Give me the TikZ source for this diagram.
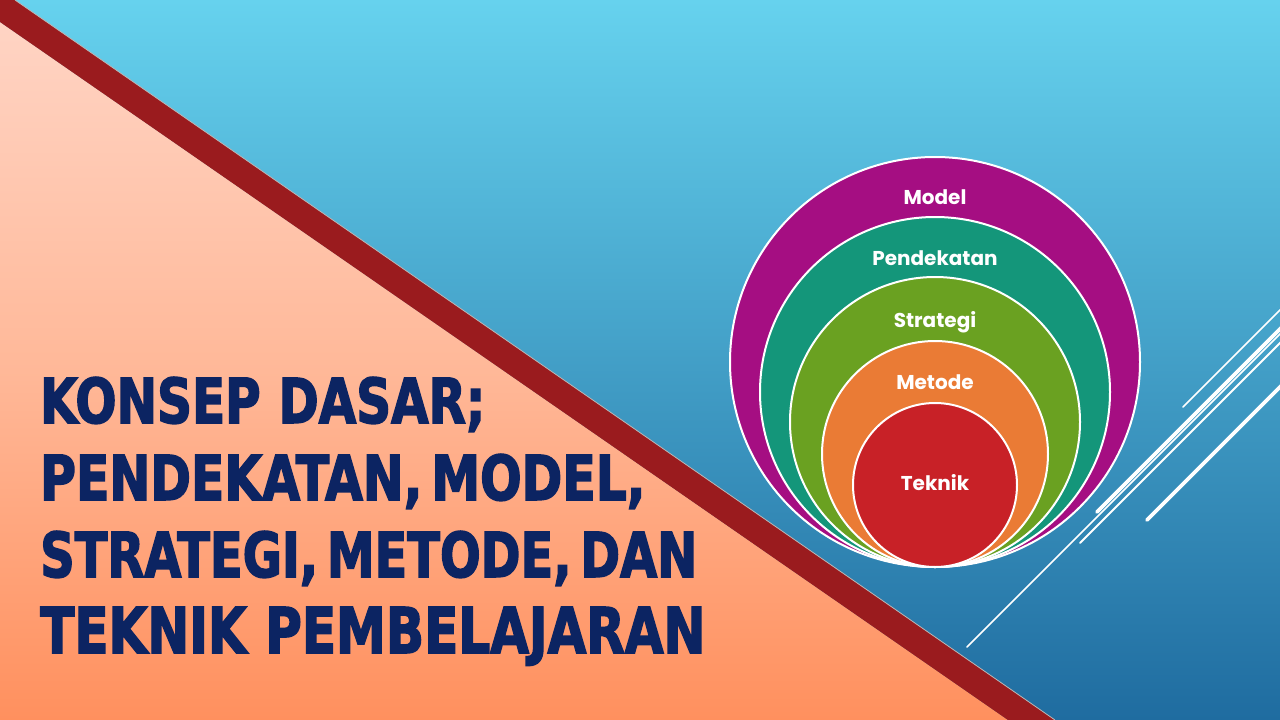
\documentclass[tikz,border=0pt]{standalone}
\usepackage{fontspec}
\setmainfont{Poppins}
\newfontfamily\titlefont[BoldFeatures={FakeBold=2.5}]{DejaVu Sans Condensed}
\definecolor{skytop}{HTML}{66D2EE}
\definecolor{skybot}{HTML}{1F6CA0}
\definecolor{peachtop}{HTML}{FFD4C4}
\definecolor{peachmid}{HTML}{FFB898}
\definecolor{peachbot}{HTML}{FF905E}
\definecolor{bandred}{HTML}{9A1B1E}
\definecolor{navy}{HTML}{0C2462}
\definecolor{cmodel}{HTML}{A50E82}
\definecolor{cpend}{HTML}{14967A}
\definecolor{cstrat}{HTML}{6AA121}
\definecolor{cmet}{HTML}{EA7B35}
\definecolor{ctek}{HTML}{C82127}
\begin{document}
\begin{tikzpicture}[x=1pt,y=-1pt,
  ring/.style={draw=white,line width=2pt},
  ringlabel/.style={text=white,font=\bfseries\fontsize{20}{23}\selectfont,inner sep=0pt,anchor=base},
  titleline/.style={text=navy,inner sep=0pt,anchor=base west},
  thinln/.style={draw=white,line width=1.6pt,line cap=round},
  thickln/.style={draw=white,line width=3.6pt,line cap=round}]
\useasboundingbox (0,0) rectangle (1280,720);
% background
\shade[top color=skytop,bottom color=skybot] (0,0) rectangle (1280,720);
\shade[top color=peachtop,bottom color=peachbot,middle color=peachmid] (0,22) -- (1008,720) -- (0,720) -- cycle;
\fill[bandred] (0,0) -- (15,0) -- (1055,720) -- (1008,720) -- (0,22) -- cycle;
\draw[gray!55,line width=0.8pt] (15,0) -- (1055,720);
% circles
\fill[cmodel,ring] (935,362) circle[radius=205];
\fill[cpend,ring] (935,392) circle[radius=175];
\fill[cstrat,ring] (935,422) circle[radius=145];
\fill[cmet,ring] (935,454) circle[radius=113];
\fill[ctek,ring] (935,485) circle[radius=82];
\node[ringlabel] (lmodel) at (935,204) {Model};
\node[ringlabel] (lpend) at (935,265) {Pendekatan};
\node[ringlabel] (lstrat) at (935,327) {Strategi};
\node[ringlabel] (lmet) at (935,389) {Metode};
\node[ringlabel] (ltek) at (935,490) {Teknik};
% white lines
\draw[thinln] (1183,407) -- (1290,300);
\draw[thickln] (1097,512) -- (1290,319);
\draw[thinln] (967,647) -- (1290,324);
\draw[thinln,line width=2pt] (1080,543) -- (1290,333);
\draw[thickln] (1147,520) -- (1290,377);
% title
\node[titleline] (t1) at (40,423) {\resizebox{445pt}{46pt}{\titlefont\bfseries KONSEP\,\,DASAR;}};
\node[titleline] (t2) at (40,500) {\resizebox{605pt}{46pt}{\titlefont\bfseries PENDEKATAN,\,MODEL,}};
\node[titleline] (t3) at (40,577) {\resizebox{657pt}{46pt}{\titlefont\bfseries STRATEGI,\,METODE,\,DAN}};
\node[titleline] (t4) at (40,653) {\resizebox{665pt}{46pt}{\titlefont\bfseries TEKNIK\,\,PEMBELAJARAN}};
\end{tikzpicture}
\end{document}
